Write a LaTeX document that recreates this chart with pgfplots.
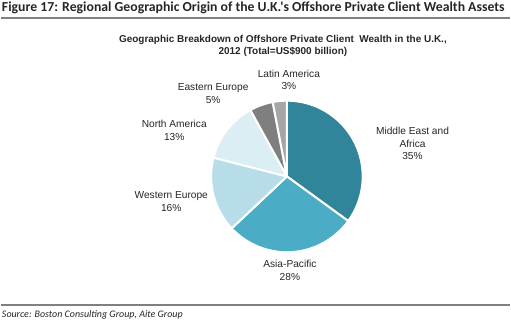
\documentclass[border=0pt]{standalone}
\usepackage{pgfplots}
\pgfplotsset{compat=1.18}
\usepackage{fontspec}
\setmainfont{Liberation Sans}
\newfontfamily\calibri{Carlito}
\definecolor{cME}{RGB}{49,133,155}
\definecolor{cAP}{RGB}{75,172,198}
\definecolor{cWE}{RGB}{183,222,232}
\definecolor{cNA}{RGB}{218,238,243}
\definecolor{cEE}{RGB}{127,127,127}
\definecolor{cLA}{RGB}{166,166,166}
\definecolor{titlegray}{RGB}{38,38,38}
\definecolor{rulegray}{RGB}{128,128,128}
% shares (percent), clockwise from 12 o'clock
% Middle East and Africa 35, Asia-Pacific 28, Western Europe 16,
% North America 13, Eastern Europe 5, Latin America 3
% cumulative: 0 35 63 79 92 97 100 -> angle = 3.6 * cumulative
\newcommand{\slice}[3]{%
  \addplot[fill=#1, draw=white, line width=2pt, line join=round, domain={3.6*#2}:{3.6*#3}, samples=90]
    ({287+76*sin(x)},{177-76*cos(x)}) -- (axis cs:287,177) -- cycle;}
\begin{document}
\begin{tikzpicture}
\begin{axis}[scale only axis, width=511pt, height=326pt,
  xmin=0, xmax=511, ymin=0, ymax=326, y dir=reverse,
  hide axis, clip=false]
\path (axis cs:0,0) rectangle (axis cs:511,326);
\slice{cME}{0}{35}
\slice{cAP}{35}{63}
\slice{cWE}{63}{79}
\slice{cNA}{79}{92}
\slice{cEE}{92}{97}
\slice{cLA}{97}{100}
% rules
\draw[rulegray, line width=1.6pt] (axis cs:0,18) -- (axis cs:511,18);
\draw[rulegray, line width=1.2pt] (axis cs:0,306) -- (axis cs:511,306);
% title
\node[anchor=west, inner sep=0pt, text=titlegray, font=\calibri\bfseries\fontsize{13.8}{15}\selectfont] at (axis cs:1,8) {Figure 17: Regional Geographic Origin of the U.K.'s Offshore Private Client Wealth Assets};
\node[align=center, inner sep=0pt, text=titlegray, font=\bfseries\fontsize{10}{12}\selectfont] at (axis cs:283,46) {Geographic Breakdown of Offshore Private Client\ \ Wealth in the U.K.,\\2012 (Total=US\$900 billion)};
\node[anchor=west, inner sep=0pt, text=titlegray, font=\calibri\itshape\fontsize{10}{12}\selectfont] at (axis cs:1,316) {Source: Boston Consulting Group, Aite Group};
% labels
\tikzset{lab/.style={align=center, inner sep=0pt, text=titlegray, font=\fontsize{10.2}{12.5}\selectfont}}
\node[lab] at (axis cs:413,144) {Middle East and\\Africa\\35\%};
\node[lab] at (axis cs:290,271) {Asia-Pacific\\28\%};
\node[lab] at (axis cs:171,202) {Western Europe\\16\%};
\node[lab] at (axis cs:174,131) {North America\\13\%};
\node[lab] at (axis cs:213,94) {Eastern Europe\\5\%};
\node[lab] at (axis cs:289,80) {Latin America\\3\%};
\end{axis}
\end{tikzpicture}
\end{document}
